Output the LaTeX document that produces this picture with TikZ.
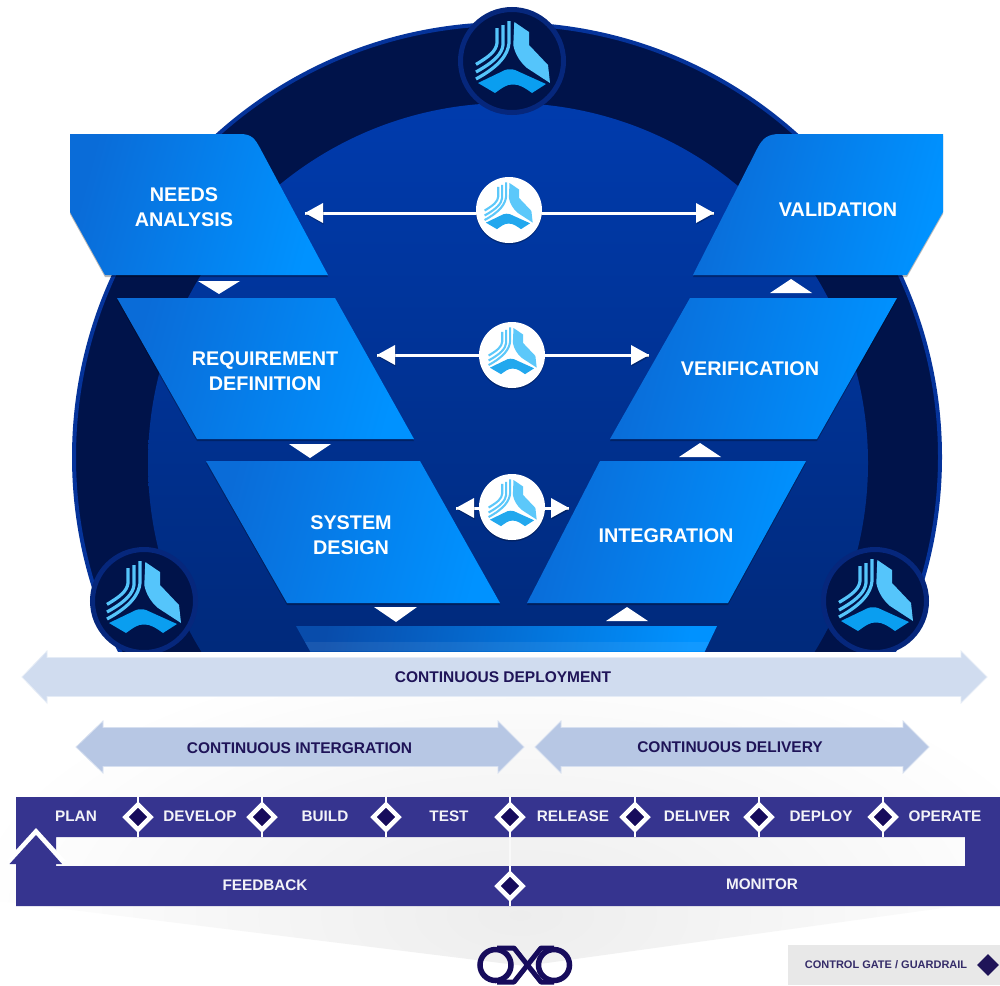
\documentclass[tikz,border=0pt]{standalone}
\usepackage{fontspec}
\setmainfont{Liberation Sans}
\usetikzlibrary{shapes.geometric,shadows}
\definecolor{ring}{HTML}{00134A}
\definecolor{ringedge}{HTML}{05339A}
\definecolor{logoedge}{HTML}{06277C}
\definecolor{innertop}{HTML}{003BAD}
\definecolor{innerbot}{HTML}{00246C}
\definecolor{paneA}{HTML}{0A6CD8}
\definecolor{paneB}{HTML}{0092FF}
\definecolor{paneC}{HTML}{084CAB}
\definecolor{band}{HTML}{36348F}
\definecolor{gatefill}{HTML}{170C5C}
\definecolor{navy}{HTML}{1F1458}
\definecolor{cdep}{HTML}{D0DCEF}
\definecolor{cint}{HTML}{B7C7E4}
\definecolor{logolight}{HTML}{55C5FB}
\definecolor{logomid}{HTML}{0A9EF0}
\definecolor{logolightB}{HTML}{5CC8FA}
\definecolor{logomidB}{HTML}{22A8EE}
\tikzset{
  panel/.style={left color=paneA,right color=paneB,shading angle=75,
    drop shadow={shadow xshift=0pt,shadow yshift=-2pt,opacity=.28,fill=black}},
  paneltext/.style={text=white,align=center,inner sep=0pt,font=\fontsize{19.8}{25}\selectfont\bfseries},
  bandtext/.style={text=white!94!band,inner sep=0pt,font=\fontsize{15.3}{18}\selectfont\bfseries},
  arrowtext/.style={text=navy,inner sep=0pt,font=\fontsize{15.5}{18}\selectfont\bfseries},
  legendtext/.style={text=navy!90!white,inner sep=0pt,font=\fontsize{11}{13}\selectfont\bfseries},
  gate/.style={diamond,draw=white,line width=4.5pt,fill=gatefill,minimum size=27pt,inner sep=0pt},
  marker/.style={fill=white,draw=none},
  dbl/.style={draw=white,line width=3pt},
  dblhead/.style={fill=white,draw=none,drop shadow={shadow xshift=0.5pt,shadow yshift=-1.5pt,opacity=.25,fill=black}},
  logodisc/.style={circle,fill=ring,draw=logoedge,line width=5pt,minimum size=103pt,inner sep=0pt},
  whitedisc/.style={circle,fill=white,minimum size=66pt,inner sep=0pt,
    drop shadow={shadow xshift=0pt,shadow yshift=-1.5pt,opacity=.25,fill=black}},
}
\newcommand{\vlogo}[5]{%
  \begin{scope}[shift={(#1,#2)},scale=#3]
    \fill[#4] (2.3,-40) -- (17,-30) -- (17,-17) -- (36,3) -- (38,21) -- (15,6)
       .. controls (8,0) and (3,-8) .. (1.3,-17) -- cycle;
    \fill[#5] (-34,21) -- (-7,8) .. controls (-4,7) and (0,7) .. (3,8) -- (34,22) -- (20,31)
       .. controls (13,26) and (7,22) .. (1,22.5) .. controls (-5,22) and (-10,26) .. (-17,31) -- cycle;
    \draw[#4,line width=#3*3.2pt]
       (-3,-41) -- (-3,-19) .. controls (-4,-8) and (-12,4) .. (-36,17);
    \draw[#4,line width=#3*3.2pt]
       (-9,-37) -- (-9,-17) .. controls (-10,-8) and (-18,0) .. (-36,10);
    \draw[#4,line width=#3*3.2pt]
       (-15,-34) -- (-15,-19) .. controls (-16,-11) and (-22,-6) .. (-36,2.4);
  \end{scope}}
\newcommand{\bigarrow}[7]{% tipL baseL baseR tipR ymid shafthalf color
  \filldraw[fill=#7,draw=#7!55!white,line width=.8pt] (#1,#5) -- (#2,#5-26) -- (#2,#5-#6) -- (#3,#5-#6) -- (#3,#5-26) -- (#4,#5)
     -- (#3,#5+26) -- (#3,#5+#6) -- (#2,#5+#6) -- (#2,#5+26) -- cycle;}
\begin{document}
\begin{tikzpicture}[x=1pt,y=-1pt]
\useasboundingbox (0,0) rectangle (1000,985);
\fill[white] (0,0) rectangle (1000,985);
% soft grey funnel
\begin{scope}
  \clip (0,640) -- (1000,640) -- (1000,900) -- (525,966) -- (0,901) -- cycle;
  \shade[inner color=black!7,outer color=white] (520,915) ellipse [x radius=560,y radius=270];
\end{scope}
% upper figure, cut off along the deployment band
\begin{scope}
  \clip (0,0) rectangle (1000,651);
  \fill[ring,draw=ringedge,line width=4pt] (507,457) circle [radius=433];
  \shade[top color=innertop,bottom color=innerbot] (508,463) circle [radius=360];
  \node[logodisc] (logoL) at (144,601) {};
  \node[logodisc] (logoR) at (875,601) {};
  \vlogo{143}{602}{1}{logolight}{logomid}
  \vlogo{875}{600}{1}{logolight}{logomid}
  \path[left color=paneC,right color=paneB,shading angle=80] (296,626) -- (717,626) -- (700.7,660) -- (315,660) -- cycle;
  \fill[white,opacity=.07] (305,642) -- (709,642) -- (704.5,651) -- (310,651) -- cycle;
\end{scope}
\node[logodisc] (logoT) at (512,61) {};
\vlogo{512}{62}{1}{logolight}{logomid}
% panels
\path[panel] (70,134) -- (240,134) .. controls (252,134) and (255,139) .. (260,148) -- (328,275) -- (105,275) -- (70,212) -- cycle;
\path[panel] (117,298) -- (335,298) -- (414,439) -- (197,439) -- cycle;
\path[panel] (206,461) -- (420,461) -- (500,603) -- (287,603) -- cycle;
\path[panel] (780,134) .. controls (768,134) and (763,138) .. (758,147) -- (693,275) -- (907,275) -- (943,212) -- (943,134) -- cycle;
\path[panel] (690,298) -- (897,298) -- (817,439) -- (610,439) -- cycle;
\path[panel] (600,461) -- (806,461) -- (728,603) -- (527,603) -- cycle;
% flow markers
\fill[marker] (198,281) -- (240,281) -- (219,294) -- cycle;
\fill[marker] (289,444) -- (331,444) -- (310,458) -- cycle;
\fill[marker] (374,607) -- (417,607) -- (396,622) -- cycle;
\fill[marker] (770,293) -- (812,293) -- (791,279) -- cycle;
\fill[marker] (679,457) -- (721,457) -- (700,443) -- cycle;
\fill[marker] (606,621) -- (648,621) -- (627,607) -- cycle;
% double arrows
\coordinate (a1L) at (305,213); \coordinate (a1R) at (714,213);
\coordinate (a2L) at (377,355); \coordinate (a2R) at (649,355);
\coordinate (a3L) at (456,508); \coordinate (a3R) at (569,508);
\foreach \L/\R in {a1L/a1R,a2L/a2R,a3L/a3R}{
  \draw[dbl] (\L) -- (\R);
  \path[dblhead] (\L) -- ++(18,-10) -- ++(0,20) -- cycle;
  \path[dblhead] (\R) -- ++(-18,-10) -- ++(0,20) -- cycle;
}
\node[whitedisc] (hub1) at (509,210) {};
\node[whitedisc] (hub2) at (512,355) {};
\node[whitedisc] (hub3) at (512,507) {};
\vlogo{508}{209}{.65}{logolightB}{logomidB}
\vlogo{512}{354}{.65}{logolightB}{logomidB}
\vlogo{512}{506}{.65}{logolightB}{logomidB}
% panel labels
\node[paneltext] (t1) at (184,207.5) {NEEDS\\ANALYSIS};
\node[paneltext] (t2) at (265,371.5) {REQUIREMENT\\DEFINITION};
\node[paneltext] (t3) at (351,535.5) {SYSTEM\\DESIGN};
\node[paneltext] (t4) at (838,210) {VALIDATION};
\node[paneltext] (t5) at (750,369) {VERIFICATION};
\node[paneltext] (t6) at (666,536) {INTEGRATION};
% pipeline arrows
\bigarrow{22}{47}{961}{987}{677}{19.5}{cdep}
\bigarrow{76}{103}{498}{524}{747}{19.5}{cint}
\bigarrow{535}{561}{903}{929}{747}{19.5}{cint}
\node[arrowtext] (c1) at (503,677) {CONTINUOUS DEPLOYMENT};
\node[arrowtext] (c2) at (299.5,748) {CONTINUOUS INTERGRATION};
\node[arrowtext] (c3) at (730,747) {CONTINUOUS DELIVERY};
% loop band
\fill[band,even odd rule] (16,797) -- (1000,797) -- (1000,906) -- (16,906) -- cycle
   (56,837) -- (965,837) -- (965,866) -- (56,866) -- cycle;
% return arrowhead
\fill[white] (36,828) -- (66,861) -- (6,861) -- cycle;
\fill[band] (36,835) -- (62,864) -- (9.5,864) -- cycle;
\fill[band] (16,864) rectangle (56,870);
% gates
\foreach \n/\x in {g1/138,g2/262,g3/386,g4/510,g5/635,g6/759,g7/883}{
  \draw[white,line width=2.5pt] (\x,797) -- (\x,837);
  \node[gate] (\n) at (\x,817) {};
}
\draw[white,line width=2.5pt] (510,866) -- (510,906);
\draw[white,line width=1.5pt,opacity=.6] (510,837) -- (510,866);
\node[gate] (g8) at (510,886) {};
% band labels
\node[bandtext] (b1) at (76,816) {PLAN};
\node[bandtext] (b2) at (200,816) {DEVELOP};
\node[bandtext] (b3) at (325,816) {BUILD};
\node[bandtext] (b4) at (449,816) {TEST};
\node[bandtext] (b5) at (573,816) {RELEASE};
\node[bandtext] (b6) at (697,816) {DELIVER};
\node[bandtext] (b7) at (821,816) {DEPLOY};
\node[bandtext] (b8) at (945,816) {OPERATE};
\node[bandtext] (b9) at (265,885) {FEEDBACK};
\node[bandtext] (b10) at (762,884) {MONITOR};
% infinity mark
\draw[gatefill,line width=5.5pt] (495.5,965) circle [radius=15.5];
\draw[gatefill,line width=5.5pt] (554,965) circle [radius=15.5];
\draw[gatefill,line width=5pt,line join=round] (497,948) -- (514,948) -- (541,982) -- (554,982);
\draw[gatefill,line width=5pt,line join=round] (497,982) -- (514,982) -- (541,948) -- (554,948);
% legend
\fill[black!9] (788,945) rectangle (1000,985);
\node[legendtext] (leg) at (886,965) {CONTROL GATE / GUARDRAIL};
\node[diamond,fill=navy,minimum size=22pt,inner sep=0pt] (legd) at (988,965) {};
\end{tikzpicture}
\end{document}
